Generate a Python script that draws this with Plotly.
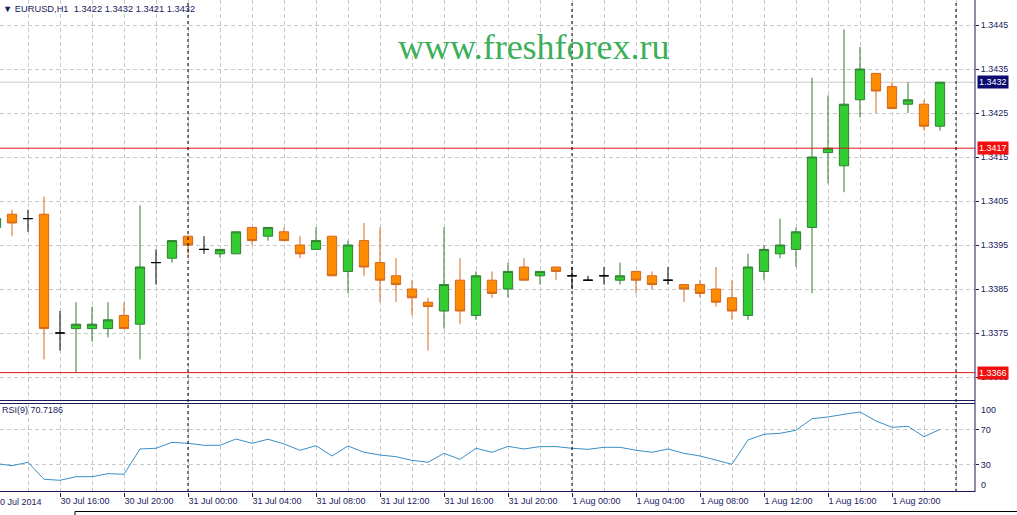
import plotly.graph_objects as go
import pandas as pd

# ---------------- data ----------------
bar_times = list(pd.date_range("2014-07-30 12:00", periods=60, freq="h"))

open_ = [1.3399, 1.3402, 1.3401, 1.3402, 1.3375, 1.3376, 1.3376, 1.3376, 1.3379, 1.3377,
         1.3391, 1.3392, 1.3397, 1.3394, 1.3393, 1.3393, 1.3399, 1.3397, 1.3398, 1.3395,
         1.3394, 1.3397, 1.3389, 1.3396, 1.3391, 1.3388, 1.3385, 1.3382, 1.3380, 1.3387,
         1.3379, 1.3387, 1.3385, 1.3390, 1.3388, 1.3390, 1.3388, 1.3387, 1.3388, 1.3387,
         1.3389, 1.3388, 1.3387, 1.3386, 1.3386, 1.3385, 1.3383, 1.3379, 1.3389, 1.3393,
         1.3394, 1.3399, 1.3416, 1.3413, 1.3428, 1.3434, 1.3431, 1.3427, 1.3427, 1.3422]
high = [1.3402, 1.3403, 1.3403, 1.3406, 1.3380, 1.3382, 1.3381, 1.3382, 1.3382, 1.3404,
        1.3394, 1.3396, 1.3397, 1.3397, 1.3394, 1.3398, 1.3399, 1.3399, 1.3399, 1.3397,
        1.3399, 1.3397, 1.3396, 1.3400, 1.3399, 1.3392, 1.3387, 1.3383, 1.3399, 1.3392,
        1.3389, 1.3389, 1.3391, 1.3392, 1.3389, 1.3390, 1.3390, 1.3388, 1.3390, 1.3391,
        1.3389, 1.3389, 1.3390, 1.3386, 1.3387, 1.3390, 1.3387, 1.3393, 1.3395, 1.3401,
        1.3399, 1.3433, 1.3429, 1.3444, 1.3440, 1.3434, 1.3432, 1.3432, 1.3428, 1.3432]
low = [1.3398, 1.3397, 1.3398, 1.3369, 1.3371, 1.3366, 1.3373, 1.3374, 1.3376, 1.3369,
       1.3386, 1.3391, 1.3393, 1.3393, 1.3392, 1.3393, 1.3395, 1.3396, 1.3396, 1.3392,
       1.3394, 1.3388, 1.3384, 1.3388, 1.3382, 1.3382, 1.3379, 1.3371, 1.3376, 1.3377,
       1.3378, 1.3383, 1.3383, 1.3387, 1.3386, 1.3387, 1.3385, 1.3387, 1.3386, 1.3386,
       1.3384, 1.3385, 1.3386, 1.3382, 1.3383, 1.3381, 1.3378, 1.3378, 1.3387, 1.3392,
       1.3390, 1.3384, 1.3409, 1.3407, 1.3424, 1.3425, 1.3426, 1.3425, 1.3421, 1.3421]
close = [1.3401, 1.3400, 1.3401, 1.3376, 1.3375, 1.3377, 1.3377, 1.3378, 1.3376, 1.3390,
         1.3391, 1.3396, 1.3395, 1.3394, 1.3394, 1.3398, 1.3396, 1.3399, 1.3396, 1.3393,
         1.3396, 1.3388, 1.3395, 1.3390, 1.3387, 1.3386, 1.3383, 1.3381, 1.3386, 1.3380,
         1.3388, 1.3384, 1.3389, 1.3387, 1.3389, 1.3389, 1.3388, 1.3387, 1.3388, 1.3388,
         1.3387, 1.3386, 1.3387, 1.3385, 1.3384, 1.3382, 1.3380, 1.3390, 1.3394, 1.3395,
         1.3398, 1.3415, 1.3417, 1.3427, 1.3435, 1.3430, 1.3426, 1.3428, 1.3422, 1.3432]
rsi = [31.7, 29.2, 33.1, 13.7, 12.5, 16.6, 16.6, 20.1, 19.4, 48.3,
       49.1, 55.9, 54.8, 52.5, 52.5, 59.7, 54.8, 59.4, 54.0, 46.8,
       52.1, 40.3, 51.7, 44.5, 41.4, 39.5, 35.3, 33.1, 43.3, 36.5,
       49.1, 44.5, 51.3, 48.3, 51.0, 51.0, 49.1, 47.9, 50.2, 50.2,
       46.8, 44.5, 48.3, 43.3, 40.3, 35.7, 30.8, 58.6, 65.1, 66.2,
       69.7, 82.9, 84.9, 87.9, 90.6, 80.3, 73.1, 74.2, 62.3, 70.7186]

tick_times = ["2014-07-30 16:00", "2014-07-30 20:00", "2014-07-31 00:00", "2014-07-31 04:00",
              "2014-07-31 08:00", "2014-07-31 12:00", "2014-07-31 16:00", "2014-07-31 20:00",
              "2014-08-01 00:00", "2014-08-01 04:00", "2014-08-01 08:00", "2014-08-01 12:00",
              "2014-08-01 16:00", "2014-08-01 20:00"]
tick_labels = ["30 Jul 16:00", "30 Jul 20:00", "31 Jul 00:00", "31 Jul 04:00",
               "31 Jul 08:00", "31 Jul 12:00", "31 Jul 16:00", "31 Jul 20:00",
               "1 Aug 00:00", "1 Aug 04:00", "1 Aug 08:00", "1 Aug 12:00",
               "1 Aug 16:00", "1 Aug 20:00"]
first_label = "30 Jul 2014"
price_ticks = [1.3365, 1.3375, 1.3385, 1.3395, 1.3405, 1.3415, 1.3425, 1.3435, 1.3445]
day_separators = ["2014-07-31 00:00", "2014-08-01 00:00", "2014-08-02 00:00"]
level_lines = [1.3417, 1.3366]
bid_price = 1.3432
header_text = "EURUSD,H1  1.3422 1.3432 1.3421 1.3432"
rsi_text = "RSI(9) 70.7186"
watermark = "www.freshforex.ru"

# ---------------- styles ----------------
NAVY = "#1A1A5C"
GRID = "#C9C9C9"
FONT = "Liberation Sans"
FS = 9
W, H = 1017, 515
ML, MR, MT, MB = 0, 42, 0, 23
PH = H - MT - MB  # plot height in px
PW = W - ML - MR


def py(px):
    """pixel row -> paper y"""
    return (PH - (px - MT)) / PH


doji = [o == c for o, c in zip(open_, close)]
idx_n = [i for i in range(len(open_)) if not doji[i]]
idx_d = [i for i in range(len(open_)) if doji[i]]

fig = go.Figure()
fig.add_trace(go.Candlestick(
    x=[bar_times[i] for i in idx_n],
    open=[open_[i] for i in idx_n], high=[high[i] for i in idx_n],
    low=[low[i] for i in idx_n], close=[close[i] for i in idx_n],
    increasing=dict(line=dict(color="#2F7F2F", width=1), fillcolor="#33CC33"),
    decreasing=dict(line=dict(color="#D2691E", width=1), fillcolor="#FF8C00"),
    whiskerwidth=0, xaxis="x", yaxis="y", hoverinfo="skip"))
fig.add_trace(go.Candlestick(
    x=[bar_times[i] for i in idx_d],
    open=[open_[i] for i in idx_d], high=[high[i] for i in idx_d],
    low=[low[i] for i in idx_d], close=[close[i] for i in idx_d],
    increasing=dict(line=dict(color="#000000", width=1), fillcolor="#000000"),
    decreasing=dict(line=dict(color="#000000", width=1), fillcolor="#000000"),
    whiskerwidth=0, xaxis="x", yaxis="y", hoverinfo="skip"))
fig.add_trace(go.Scatter(
    x=bar_times, y=rsi, mode="lines", line=dict(color="#3A8FC8", width=1),
    xaxis="x", yaxis="y2", hoverinfo="skip"))

shapes = []
for lv in level_lines:
    shapes.append(dict(type="line", xref="paper", x0=0, x1=1, yref="y", y0=lv, y1=lv,
                       line=dict(color="#E01818", width=1)))
shapes.append(dict(type="line", xref="paper", x0=0, x1=1, yref="y", y0=bid_price, y1=bid_price,
                   line=dict(color="#C8C8C8", width=1), layer="below"))
for d in day_separators:
    shapes.append(dict(type="line", xref="x", x0=d, x1=d, yref="paper", y0=0, y1=1,
                       line=dict(color="#000000", width=1, dash="3px,3px")))
for px in (400.5, 403.5, 491.5):
    shapes.append(dict(type="line", xref="paper", x0=0, x1=1, yref="paper", y0=py(px), y1=py(px),
                       line=dict(color=NAVY, width=1)))
shapes.append(dict(type="line", xref="paper", x0=1, x1=1, yref="paper", y0=0, y1=1,
                   line=dict(color=NAVY, width=1)))
shapes.append(dict(type="line", xref="paper", x0=75 / PW, x1=1.05, yref="paper",
                   y0=py(511.5), y1=py(511.5), line=dict(color="#000000", width=1)))
shapes.append(dict(type="line", xref="paper", x0=75 / PW, x1=75 / PW,
                   yref="paper", y0=py(511.5), y1=py(516), line=dict(color="#000000", width=1)))

annotations = [
    dict(xref="paper", yref="paper", x=0, y=py(9), xanchor="left", yanchor="middle", xshift=1,
         text="\u25BC " + header_text, showarrow=False,
         font=dict(family=FONT, size=9.3, color=NAVY)),
    dict(xref="paper", yref="paper", x=0, y=py(410), xanchor="left", yanchor="middle", xshift=0,
         text=rsi_text, showarrow=False, font=dict(family=FONT, size=FS, color=NAVY)),
    dict(xref="paper", yref="paper", x=1, y=py(410), xanchor="left", yanchor="middle", xshift=4,
         text="100", showarrow=False, font=dict(family=FONT, size=FS, color=NAVY)),
    dict(xref="paper", yref="paper", x=1, y=py(485), xanchor="left", yanchor="middle", xshift=4,
         text="0", showarrow=False, font=dict(family=FONT, size=FS, color=NAVY)),
    dict(xref="paper", yref="paper", x=-7 / PW, y=py(502), xanchor="left", yanchor="middle",
         text=first_label, showarrow=False, font=dict(family=FONT, size=FS, color=NAVY)),
    dict(xref="paper", yref="paper", x=533.5 / PW, y=py(47), xanchor="center",
         yanchor="middle", text=watermark, showarrow=False,
         font=dict(family="Liberation Serif", size=36, color="#3BAF5A")),
]
for lv in level_lines:
    annotations.append(dict(xref="paper", yref="y", x=1, y=lv, xanchor="left", yanchor="middle",
                            xshift=2, text=f"{lv:.4f}", showarrow=False, bgcolor="#F01010",
                            borderpad=1, font=dict(family=FONT, size=FS, color="white")))
annotations.append(dict(xref="paper", yref="y", x=1, y=bid_price, xanchor="left", yanchor="middle",
                        xshift=2, text=f"{bid_price:.4f}", showarrow=False, bgcolor="#0A0A6E",
                        borderpad=1, font=dict(family=FONT, size=FS, color="white")))

# ranges: 16 px per hour, first bar at pixel -4; 44000 px per price unit
x_range = ["2014-07-30 12:15", "2014-08-02 01:11:15"]
y_main = [1.3445 - (401 - 25) / 44000, 1.3445 + 25 / 44000]
y_rsi = [99.7 - 88 / 0.875, 99.7]

fig.update_layout(
    width=W, height=H, margin=dict(l=ML, r=MR, t=MT, b=MB, pad=0),
    paper_bgcolor="white", plot_bgcolor="white", showlegend=False,
    boxgap=0.42, boxgroupgap=0,
    font=dict(family=FONT, size=FS, color=NAVY),
    xaxis=dict(type="date", range=x_range, anchor="y2", rangeslider=dict(visible=False),
               tickvals=tick_times, ticktext=tick_labels, ticks="outside", ticklen=4,
               tickcolor=NAVY, ticklabelposition="outside right",
               showgrid=True, gridcolor=GRID, griddash="4px,3px", gridwidth=1,
               minor=dict(dtick=7200000, tick0="2014-07-30 00:00", showgrid=True,
                          gridcolor=GRID, griddash="4px,3px", ticks=""),
               showline=False, zeroline=False, fixedrange=True,
               tickfont=dict(family=FONT, size=FS, color=NAVY)),
    yaxis=dict(domain=[py(401), 1], range=y_main, side="right", anchor="x",
               tickvals=price_ticks, ticktext=[f"{p:.4f}" for p in price_ticks],
               ticks="outside", ticklen=3, tickcolor=NAVY, showgrid=True, gridcolor=GRID,
               griddash="4px,3px", showline=False, zeroline=False,
               tickfont=dict(family=FONT, size=FS, color=NAVY)),
    yaxis2=dict(domain=[0, py(404)], range=y_rsi, side="right", anchor="x",
                tickvals=[30, 70], ticktext=["30", "70"], ticks="outside", ticklen=3,
                tickcolor=NAVY, showgrid=True, gridcolor=GRID, griddash="4px,3px",
                showline=False, zeroline=False,
                tickfont=dict(family=FONT, size=FS, color=NAVY)),
    shapes=shapes, annotations=annotations,
)

fig.write_html("out.html", config={"displayModeBar": False},
               post_script="document.body.style.margin='0';document.body.style.padding='0';")
